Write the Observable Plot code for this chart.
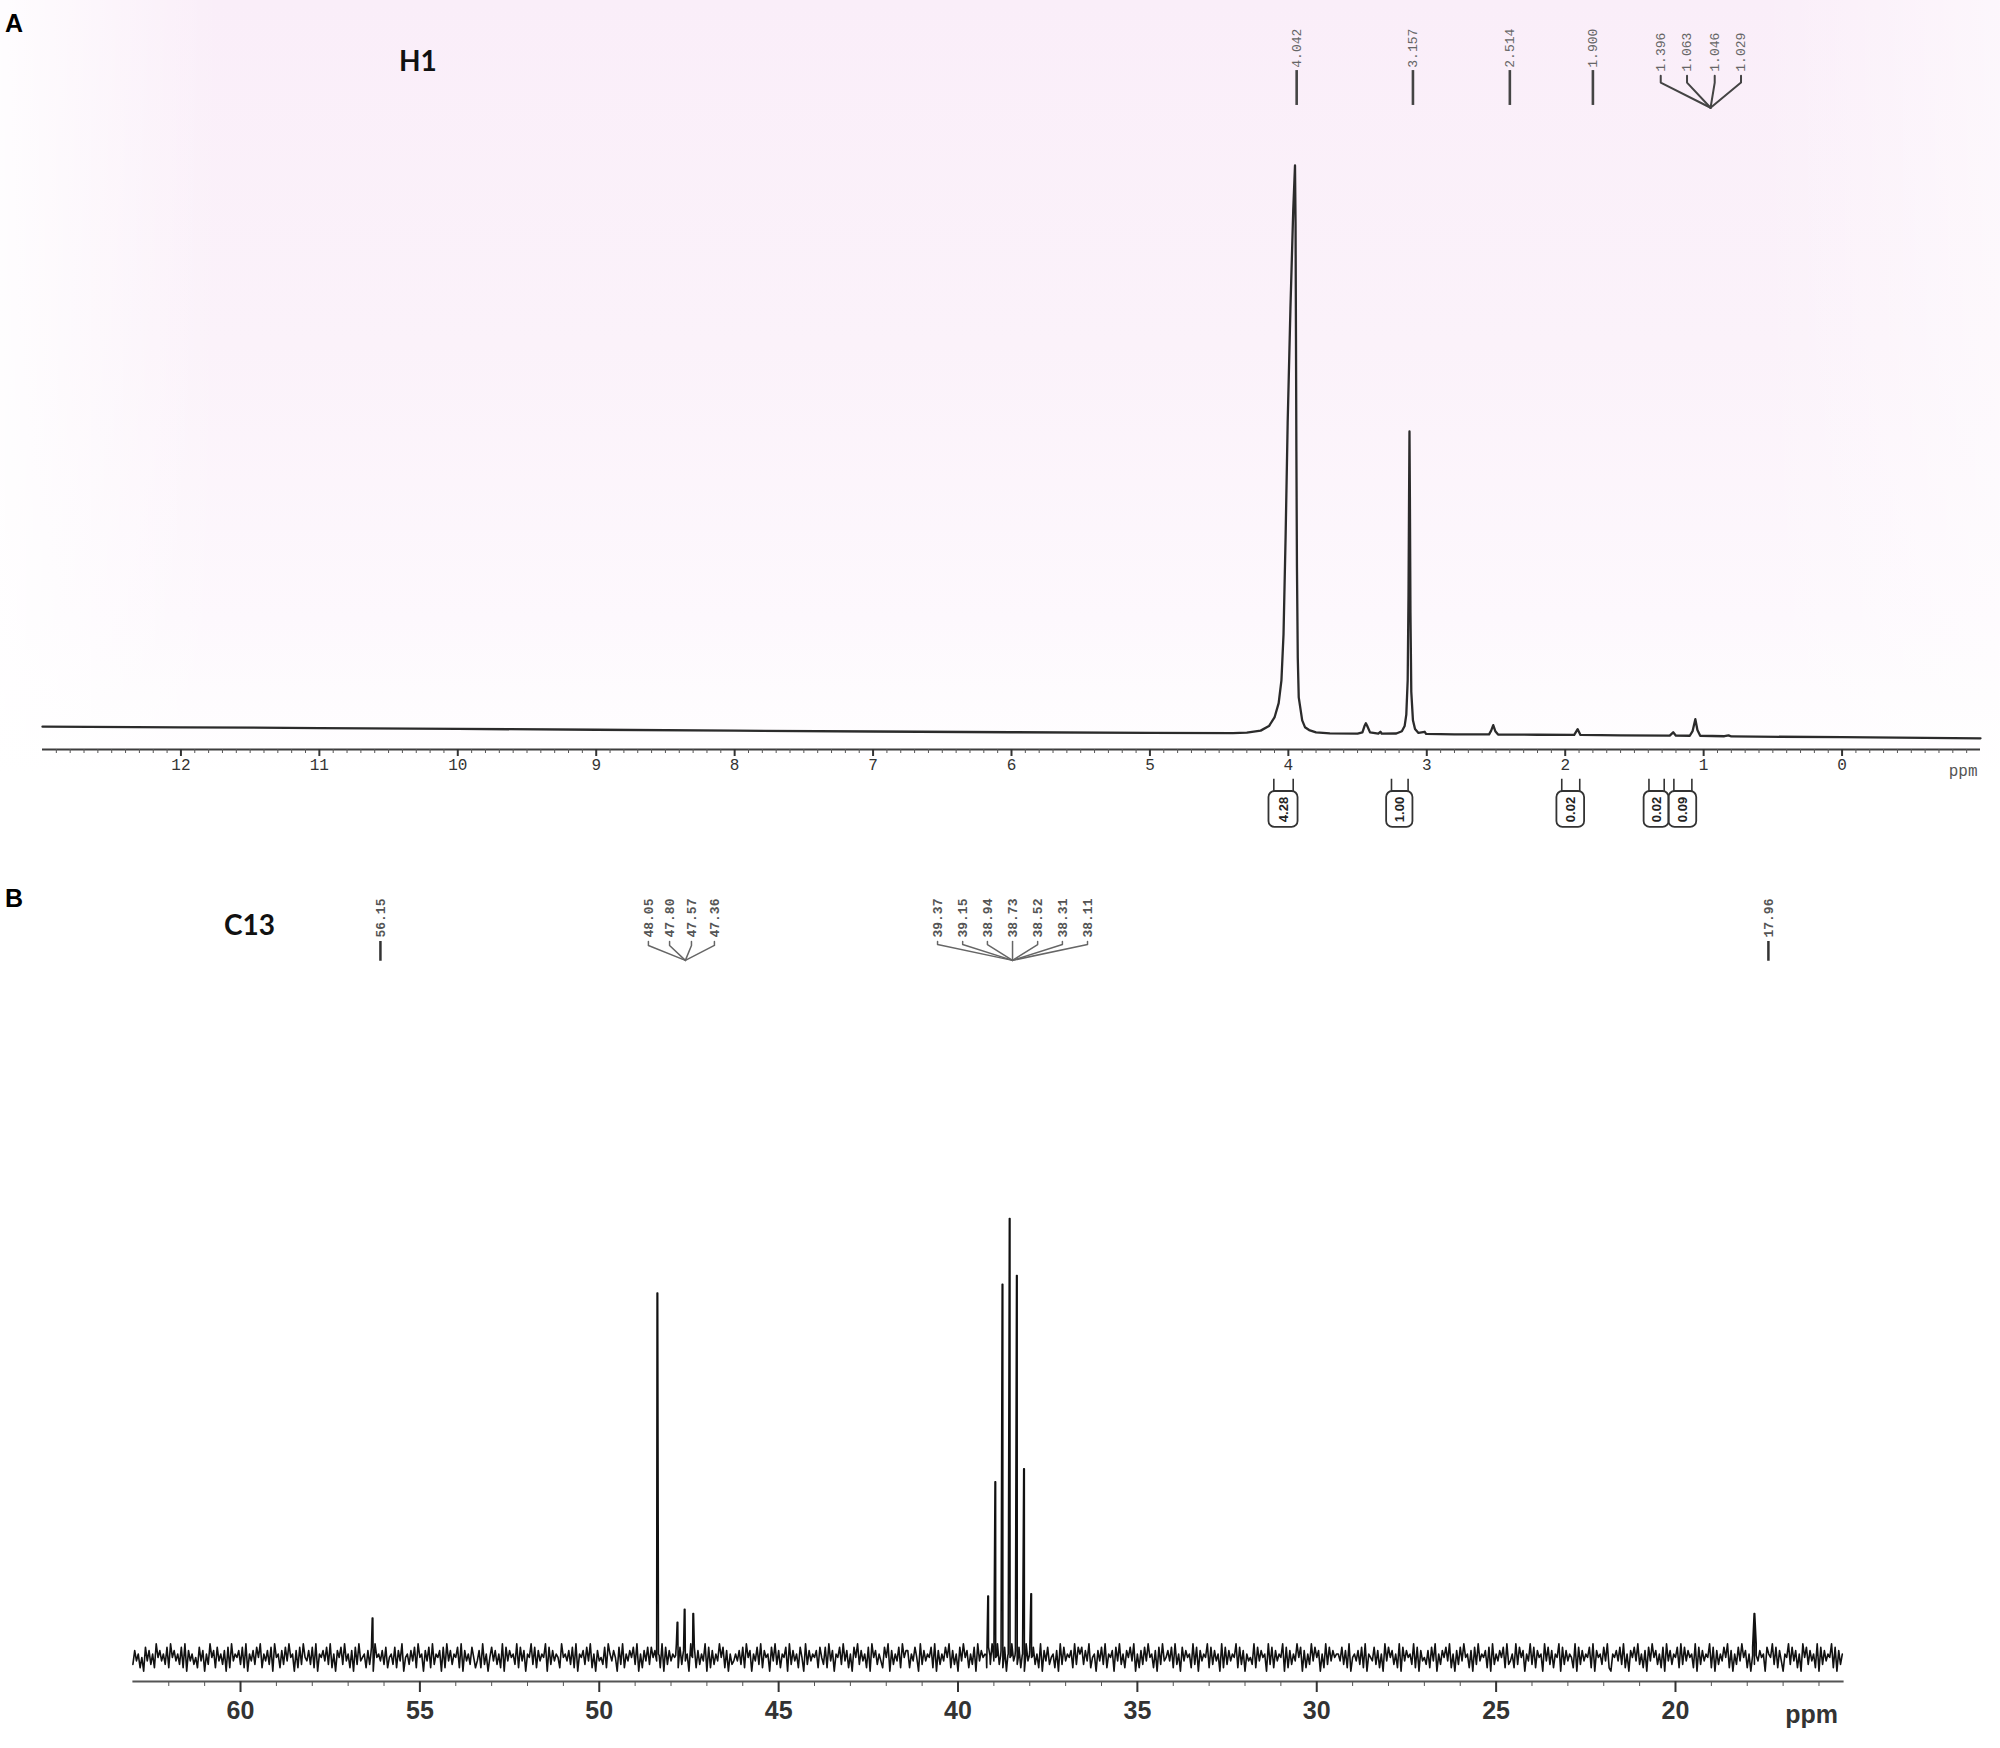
<!DOCTYPE html>
<html><head><meta charset="utf-8">
<script src="https://cdn.jsdelivr.net/npm/d3@7"></script>
<script src="https://cdn.jsdelivr.net/npm/@observablehq/plot@0.6"></script>
<style>
body{margin:0;background:#fff;}
#wrap{position:relative;width:2000px;height:1748px;background:#fff;overflow:hidden;}
#pa{position:absolute;left:0;top:0;width:2000px;height:860px;
  background:linear-gradient(90deg,rgba(255,255,255,0.85) 0,rgba(255,255,255,0) 11%,rgba(255,255,255,0) 88%,rgba(255,255,255,0.5) 100%),
             linear-gradient(180deg,#faeef9 0%,#fbf2fa 40%,#fdf8fd 72%,#ffffff 90%);}
#pb{position:absolute;left:0;top:860px;width:2000px;height:888px;}
.lab{position:absolute;font-family:"Liberation Sans",Arial,sans-serif;font-weight:bold;font-size:25px;line-height:1;color:#000;}
.nm{position:absolute;font-family:Lato,"Open Sans",sans-serif;font-weight:bold;font-size:28px;line-height:1;color:#111;}
</style></head>
<body><div id="wrap"><div id="pa"></div><div id="pb"></div>
<div class="lab" style="left:5px;top:11px">A</div>
<div class="nm" style="left:399px;top:46px">H1</div>
<div class="lab" style="left:5px;top:886px">B</div>
<div class="nm" style="left:224px;top:910px">C13</div>
</div>
<script>
// ---------- H1 spectrum (panel A) ----------
const h1Ppm = [13.00,12.00,11.00,10.00,9.00,8.00,7.00,6.00,5.00,4.40,4.30,4.20,4.14,4.10,4.07,4.05,4.035,4.02,4.005,3.985,3.965,3.952,3.948,3.945,3.942,3.938,3.932,3.925,3.90,3.88,3.85,3.80,3.70,3.50,3.465,3.45,3.44,3.43,3.41,3.35,3.335,3.325,3.22,3.18,3.16,3.148,3.138,3.132,3.128,3.125,3.122,3.118,3.112,3.10,3.085,3.06,3.015,3.005,2.80,2.55,2.535,2.52,2.505,2.485,2.20,1.935,1.91,1.89,1.60,1.245,1.22,1.20,1.10,1.08,1.06,1.045,1.025,0.85,0.82,0.80,0.00,-1.00];
const h1Int = [1.90,1.78,1.65,1.50,1.35,1.20,1.05,0.92,0.82,0.78,0.85,1.2,2.0,3.5,6,10,18,35,55,75,92,100,90,70,50,30,14,7,3.0,1.8,1.3,0.9,0.72,0.68,0.9,2.0,2.5,2.0,0.9,0.66,1.0,0.66,0.7,1.1,2.0,4,10,25,42,53.5,42,22,8,3,1.5,0.8,1.0,0.62,0.56,0.55,1.2,2.15,1.1,0.52,0.48,0.45,1.45,0.45,0.36,0.32,0.9,0.32,0.30,1.1,3.2,1.3,0.3,0.22,0.38,0.18,0.05,-0.15];
const h1TickValues = [12,11,10,9,8,7,6,5,4,3,2,1,0];
const h1LabelText = ["4.042","3.157","2.514","1.900"];
const h1LabelPos = [3.94,3.10,2.40,1.80];
const h1ClusterText = ["1.396","1.063","1.046","1.029"];
const h1ClusterPos = [1.31,1.12,0.92,0.73];
const h1ClusterJoin = 0.95;
const h1IntegralText = ["4.28","1.00","0.02","0.02","0.09"];
const h1IntegralFrom = [4.14,3.29,2.06,1.43,1.25];
const h1IntegralTo = [3.93,3.10,1.86,1.25,1.05];

// ---------- C13 spectrum (panel B) ----------
const c13PeakPpm = [56.32,48.38,47.82,47.62,47.38,39.16,38.96,38.76,38.56,38.36,38.16,37.96,17.80];
const c13PeakInt = [9,83,8,11,10,14,40,85,100,87,43,14.5,10];
const c13NoiseDigits =
"374625184736295746382957463829174635284716395728"+
"463718294657382916473859264738195627384956172839"+
"547382916574839261758394627183945627381956473825"+
"638274915637482956174829365718294736582917463852"+
"472936158473629184756392847165938274659183746529"+
"564738291657384926174538296475183926475839162748"+
"385746291837465928374619582736491827364958271634"+
"647382957164839275618493726581937462851937465728"+
"538294716583947261859374628195736428591736482957"+
"726485193746582917364859273618495726381947562839"+
"459372816594738261947583629174835627193846572938"+
"683749256174839265718493627584916273849562718394"+
"574829361847562938174659283746192837465928371645"+
"392847561938274659182736495817263948571629384756"+
"648372915647382916548372619485736291847563928174"+
"537284916375849261738495627183946572819364758293"+
"462938571649382756194837265918374652918374658291"+
"756384921657483926175849362718495736281947365829"+
"384756291837465928173648592716384957261839475618"+
"659382741659384726195837462918374659281736495827"+
"473829561748392657182943657281936475829163748529";
const c13TickValues = [60,55,50,45,40,35,30,25,20];
const c13SingleText = ["56.15","17.96"];
const c13SinglePos = [56.10,17.41];
const c13Cluster1Text = ["48.05","47.80","47.57","47.36"];
const c13Cluster1Pos = [48.63,48.04,47.43,46.79];
const c13Cluster1Join = 47.60;
const c13Cluster2Text = ["39.37","39.15","38.94","38.73","38.52","38.31","38.11"];
const c13Cluster2Pos = [40.57,39.87,39.18,38.48,37.78,37.09,36.39];
const c13Cluster2Join = 38.48;

const mono = "'Liberation Mono','DejaVu Sans Mono',monospace";
const sans = "'Liberation Sans',Arial,sans-serif";

// ----- Panel A -----
const h1Domain = [13, -1];
const h1Table = h1Ppm.map((p, i) => ({ppm: p, v: h1Int[i]}));
const h1Minor = d3.range(-10, 131).filter(i => i % 10 !== 0).map(i => i / 10);
const h1Seg = [];
h1ClusterPos.forEach((p, i) => {
  h1Seg.push({x: p, y: 115.7, g: i}, {x: p, y: 114.5, g: i}, {x: h1ClusterJoin, y: 110.1, g: i});
});
const integ = h1IntegralText.map((t, i) => ({t, a: h1IntegralFrom[i], b: h1IntegralTo[i]}));
const stems = integ.flatMap(d => [d.a - 0.035, d.b + 0.035]);

const plotA = Plot.plot({
  width: 2000, height: 860,
  marginTop: 0, marginBottom: 111, marginLeft: 42, marginRight: 20,
  style: {background: "transparent", overflow: "visible", fontFamily: mono},
  x: {domain: h1Domain, axis: null},
  y: {domain: [-2.1, 128.85], axis: null},
  marks: [
    Plot.line(h1Table, {x: "ppm", y: "v", stroke: "#2b2b2b", strokeWidth: 2.3}),
    Plot.ruleY([-2.1], {stroke: "#3d3d3d", strokeWidth: 2}),
    Plot.axisX({ticks: h1Minor, tickSize: 4, tickFormat: () => "", color: "#555", label: null}),
    Plot.axisX({ticks: h1TickValues, tickSize: 7, tickPadding: 2, fontSize: 16, fontFamily: mono,
      color: "#333", strokeWidth: 2, label: null, tickFormat: d => String(d)}),
    Plot.text(["ppm"], {text: d => d, frameAnchor: "bottom-right", dx: -3, dy: 21, textAnchor: "end",
      lineAnchor: "middle", fontSize: 16, fontFamily: mono, fill: "#555"}),
    Plot.text(h1LabelPos, {x: d => d, y: 117.1, text: (d, i) => h1LabelText[i], rotate: -90,
      textAnchor: "start", lineAnchor: "middle", fontSize: 13, fontFamily: mono, fill: "#666"}),
    Plot.ruleX(h1LabelPos, {x: d => d, y1: 116.6, y2: 110.5, stroke: "#444", strokeWidth: 2.6}),
    Plot.text(h1ClusterPos, {x: d => d, y: 116.4, text: (d, i) => h1ClusterText[i], rotate: -90,
      textAnchor: "start", lineAnchor: "middle", fontSize: 13, fontFamily: mono, fill: "#666"}),
    Plot.line(h1Seg, {x: "x", y: "y", z: "g", stroke: "#444", strokeWidth: 2}),
    Plot.rect(integ, {x1: "a", x2: "b", y1: -9.44, y2: -15.73, fill: "none", stroke: "#333", strokeWidth: 1.8, rx: 6}),
    Plot.ruleX(stems, {x: d => d, y1: -7.3, y2: -9.44, stroke: "#333", strokeWidth: 1.6}),
    Plot.text(integ, {x: d => (d.a + d.b) / 2, y: -12.59, text: "t", rotate: -90, fontSize: 13,
      fontWeight: "bold", fontFamily: sans, fill: "#222"})
  ]
});
document.getElementById("pa").append(plotA);

// ----- Panel B -----
const c13Domain = [63, 15.3];
const c13Noise = [...c13NoiseDigits].map(ch => (+ch - 5) * 0.78);
const c13Table = c13Noise.map((v, i) => ({ppm: c13Domain[0] - i * 0.05, v})).filter(d => d.ppm >= c13Domain[1]);
c13PeakPpm.forEach((p, i) => {
  c13Table.push({ppm: p + 0.05, v: 0.5}, {ppm: p + 0.008, v: c13PeakInt[i]}, {ppm: p - 0.008, v: c13PeakInt[i]}, {ppm: p - 0.05, v: 0.5});
});
c13Table.sort((a, b) => b.ppm - a.ppm);
const c13Minor = d3.range(16, 63).filter(v => v % 5 !== 0);
const c13Seg = [];
c13Cluster1Pos.forEach((p, i) => {
  c13Seg.push({x: p, y: 163.1, g: "a" + i}, {x: p, y: 162.2, g: "a" + i}, {x: c13Cluster1Join, y: 158.8, g: "a" + i});
});
c13Cluster2Pos.forEach((p, i) => {
  c13Seg.push({x: p, y: 163.1, g: "b" + i}, {x: p, y: 162.4, g: "b" + i}, {x: c13Cluster2Join, y: 158.8, g: "b" + i});
});
const c13AllLabels = [
  ...c13SingleText.map((t, i) => ({t, x: c13SinglePos[i]})),
  ...c13Cluster1Text.map((t, i) => ({t, x: c13Cluster1Pos[i]})),
  ...c13Cluster2Text.map((t, i) => ({t, x: c13Cluster2Pos[i]}))
];

const plotB = Plot.plot({
  width: 2000, height: 888,
  marginTop: 0, marginBottom: 67, marginLeft: 132.4, marginRight: 156.4,
  style: {background: "transparent", overflow: "visible", fontFamily: sans},
  x: {domain: c13Domain, axis: null},
  y: {domain: [-5.47, 181.55], axis: null},
  marks: [
    Plot.line(c13Table, {x: "ppm", y: "v", stroke: "#111", strokeWidth: 1.6}),
    Plot.ruleY([-5.47], {stroke: "#555", strokeWidth: 2}),
    Plot.axisX({ticks: c13Minor, tickSize: 5, tickFormat: () => "", color: "#555", label: null}),
    Plot.axisX({ticks: c13TickValues, tickSize: 11, tickPadding: 9, fontSize: 25, fontWeight: "bold",
      fontFamily: sans, color: "#333", strokeWidth: 2, label: null, tickFormat: d => String(d)}),
    Plot.text(["ppm"], {text: d => d, frameAnchor: "bottom-right", dx: -6, dy: 33, textAnchor: "end",
      lineAnchor: "middle", fontSize: 25, fontWeight: "bold", fontFamily: sans, fill: "#333"}),
    Plot.text(c13AllLabels, {x: "x", y: 164, text: "t", rotate: -90, textAnchor: "start", lineAnchor: "middle",
      fontSize: 13, fontWeight: "bold", fontFamily: mono, fill: "#555"}),
    Plot.ruleX(c13SinglePos, {x: d => d, y1: 163.1, y2: 158.6, stroke: "#333", strokeWidth: 2.5}),
    Plot.line(c13Seg, {x: "x", y: "y", z: "g", stroke: "#666", strokeWidth: 1.5})
  ]
});
document.getElementById("pb").append(plotB);
</script>
</body></html>
